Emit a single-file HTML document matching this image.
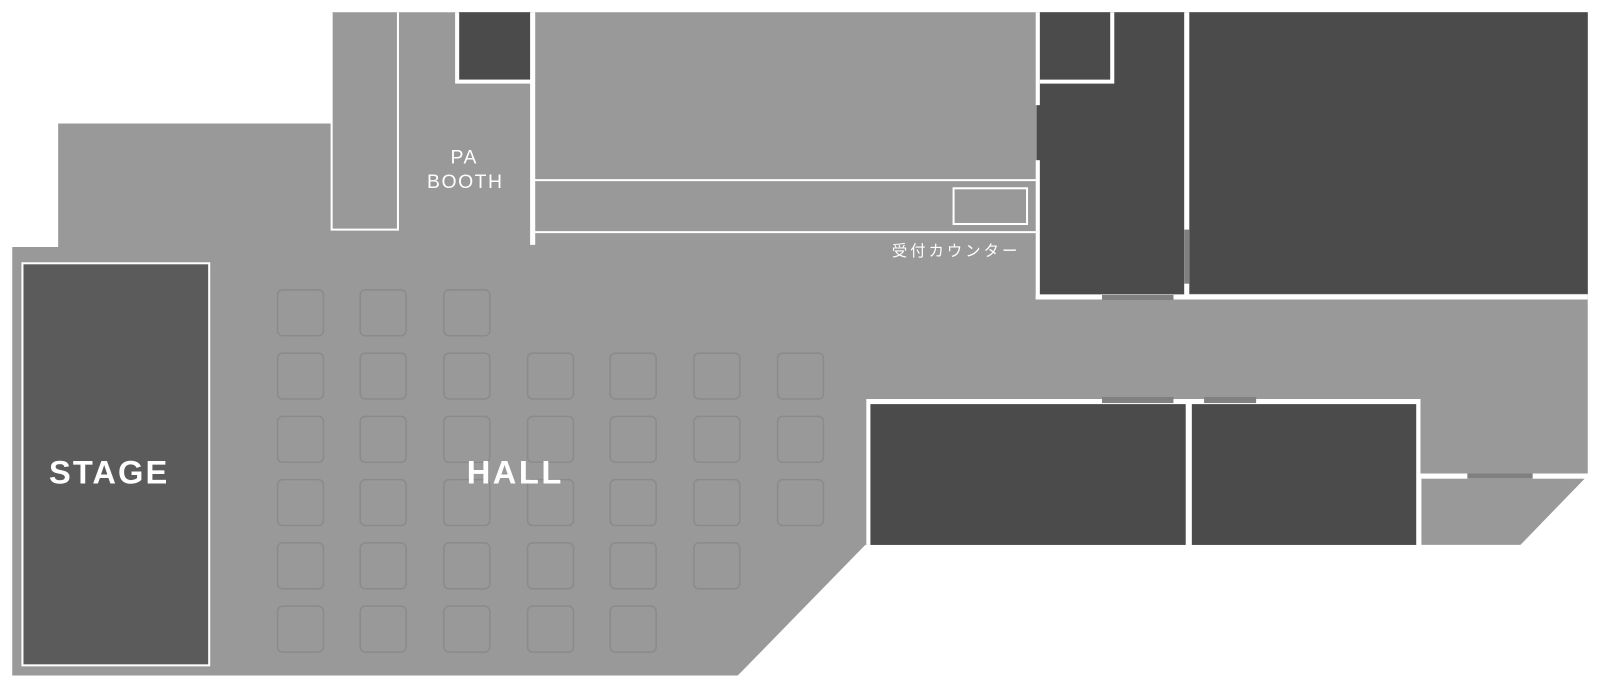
<!DOCTYPE html>
<html><head><meta charset="utf-8"><style>
html,body{margin:0;padding:0;background:#fff;}
svg{display:block;}
text{font-family:"Liberation Sans","Noto Sans CJK JP",sans-serif;fill:#fff;}
</style></head><body>
<svg width="1600" height="688" viewBox="0 0 1568 674.2" preserveAspectRatio="none" xmlns="http://www.w3.org/2000/svg">
<polygon fill="#999" points="12,242 57,242 57,121 325,121 325,12 1556,12 1556,464 1392,464 1392,534 848,534 723,662 12,662"/>
<polygon fill="#999" points="1393,469 1553,469 1490,534 1393,534"/>

<rect x="22" y="258" width="183" height="394" fill="#5b5b5b" stroke="#fff" stroke-width="2"/>

<polyline points="325,12 325,225 390,225 390,12" fill="none" stroke="#fff" stroke-width="2"/>

<rect x="449" y="12" width="71" height="66" fill="#4b4b4b"/>
<polyline points="448,12 448,80 522,80" fill="none" stroke="#fff" stroke-width="4"/>
<line x1="522" y1="12" x2="522" y2="240" stroke="#fff" stroke-width="5"/>

<line x1="524" y1="176.5" x2="1016" y2="176.5" stroke="#fff" stroke-width="2"/>
<line x1="524" y1="227.5" x2="1016" y2="227.5" stroke="#fff" stroke-width="2"/>
<rect x="934.5" y="184.5" width="72" height="35" fill="none" stroke="#fff" stroke-width="2"/>

<rect x="1019" y="12" width="143" height="278" fill="#4b4b4b"/>
<rect x="1165" y="12" width="391" height="276" fill="#4b4b4b"/>
<rect x="1016" y="103" width="4" height="54" fill="#4b4b4b"/>
<line x1="1017" y1="12" x2="1017" y2="103" stroke="#fff" stroke-width="4"/>
<line x1="1017" y1="157" x2="1017" y2="293" stroke="#fff" stroke-width="4"/>
<polyline points="1019,80 1090,80 1090,12" fill="none" stroke="#fff" stroke-width="4"/>
<line x1="1163" y1="12" x2="1163" y2="290" stroke="#fff" stroke-width="5"/>
<rect x="1160.5" y="225" width="5" height="53" fill="#808080"/>
<line x1="1015" y1="291" x2="1556" y2="291" stroke="#fff" stroke-width="5"/>
<rect x="1080" y="289" width="70" height="5" fill="#808080"/>

<rect x="849" y="391" width="543" height="143" fill="#fff"/>
<rect x="853" y="396" width="309" height="138" fill="#4b4b4b"/>
<rect x="1168" y="396" width="220" height="138" fill="#4b4b4b"/>
<rect x="1080" y="389" width="70" height="6" fill="#808080"/>
<rect x="1180" y="389" width="51" height="6" fill="#808080"/>

<rect x="1392" y="464" width="164" height="5" fill="#fff"/>
<rect x="1438" y="464" width="64" height="5" fill="#808080"/>
<rect x="1388" y="391" width="4" height="143" fill="#fff"/>

<g fill="none" stroke="#8b8b8b" stroke-width="1.5">
<rect x="272" y="284" width="45" height="45" rx="5"/><rect x="353" y="284" width="45" height="45" rx="5"/><rect x="435" y="284" width="45" height="45" rx="5"/>
<rect x="272" y="346" width="45" height="45" rx="5"/><rect x="353" y="346" width="45" height="45" rx="5"/><rect x="435" y="346" width="45" height="45" rx="5"/><rect x="517" y="346" width="45" height="45" rx="5"/><rect x="598" y="346" width="45" height="45" rx="5"/><rect x="680" y="346" width="45" height="45" rx="5"/><rect x="762" y="346" width="45" height="45" rx="5"/>
<rect x="272" y="408" width="45" height="45" rx="5"/><rect x="353" y="408" width="45" height="45" rx="5"/><rect x="435" y="408" width="45" height="45" rx="5"/><rect x="517" y="408" width="45" height="45" rx="5"/><rect x="598" y="408" width="45" height="45" rx="5"/><rect x="680" y="408" width="45" height="45" rx="5"/><rect x="762" y="408" width="45" height="45" rx="5"/>
<rect x="272" y="470" width="45" height="45" rx="5"/><rect x="353" y="470" width="45" height="45" rx="5"/><rect x="435" y="470" width="45" height="45" rx="5"/><rect x="517" y="470" width="45" height="45" rx="5"/><rect x="598" y="470" width="45" height="45" rx="5"/><rect x="680" y="470" width="45" height="45" rx="5"/><rect x="762" y="470" width="45" height="45" rx="5"/>
<rect x="272" y="532" width="45" height="45" rx="5"/><rect x="353" y="532" width="45" height="45" rx="5"/><rect x="435" y="532" width="45" height="45" rx="5"/><rect x="517" y="532" width="45" height="45" rx="5"/><rect x="598" y="532" width="45" height="45" rx="5"/><rect x="680" y="532" width="45" height="45" rx="5"/>
<rect x="272" y="594" width="45" height="45" rx="5"/><rect x="353" y="594" width="45" height="45" rx="5"/><rect x="435" y="594" width="45" height="45" rx="5"/><rect x="517" y="594" width="45" height="45" rx="5"/><rect x="598" y="594" width="45" height="45" rx="5"/>
</g>

<text x="107" y="474" font-size="32" font-weight="bold" text-anchor="middle" letter-spacing="2">STAGE</text>
<text x="505" y="474" font-size="32" font-weight="bold" text-anchor="middle" letter-spacing="2.5">HALL</text>
<text x="455" y="160" font-size="19" text-anchor="middle" letter-spacing="1.5">PA</text>
<text x="456" y="184" font-size="19" text-anchor="middle" letter-spacing="1.5">BOOTH</text>
<text x="937" y="251" font-size="15" text-anchor="middle" letter-spacing="3">受付カウンター</text>
</svg>
</body></html>
